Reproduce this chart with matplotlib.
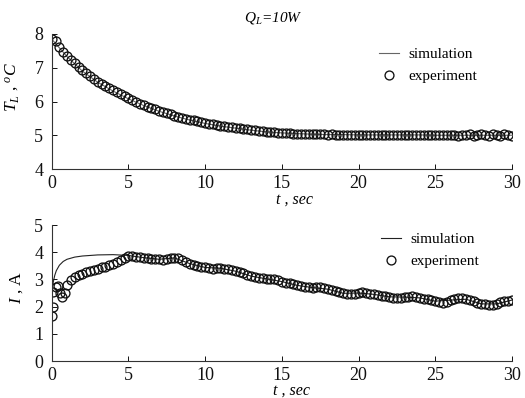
import numpy as np
import matplotlib
matplotlib.use("Agg")
import matplotlib.pyplot as plt

plt.rcParams['font.family'] = ['Liberation Serif', 'DejaVu Serif']
plt.rcParams['mathtext.fontset'] = 'custom'
plt.rcParams['mathtext.rm'] = 'Liberation Serif'
plt.rcParams['mathtext.it'] = 'Liberation Serif:italic'

# ---------------- data ----------------
title_text = r'$Q_L$=10W'

# Top panel: T_L (deg C), experiment every 0.25 s
t_T = np.arange(0, 30.001, 0.25)
T_exp = [7.85, 7.78, 7.62, 7.47,
         7.35, 7.24, 7.13, 7.02,
         6.92, 6.83, 6.75, 6.67,
         6.59, 6.52, 6.45, 6.39,
         6.33, 6.27, 6.21, 6.15,
         6.09, 6.04, 5.99, 5.94,
         5.89, 5.85, 5.81, 5.77,
         5.73, 5.69, 5.65, 5.62,
         5.58, 5.55, 5.52, 5.49,
         5.46, 5.44, 5.41, 5.39,
         5.36, 5.34, 5.32, 5.30,
         5.28, 5.27, 5.25, 5.24,
         5.22, 5.21, 5.19, 5.18,
         5.16, 5.15, 5.13, 5.12,
         5.11, 5.10, 5.09, 5.08,
         5.07, 5.06, 5.06, 5.05,
         5.05, 5.04, 5.04, 5.04,
         5.03, 5.04, 5.03, 5.03,
         5.02, 5.03, 5.02, 5.02,
         5.02, 5.01, 5.02, 5.02,
         5.01, 5.02, 5.01, 5.01,
         5.02, 5.01, 5.01, 5.01,
         5.01, 5.01, 5.02, 5.01,
         5.01, 5.01, 5.01, 5.01,
         5.01, 5.02, 5.01, 5.00,
         5.01, 5.01, 5.02, 5.00,
         5.01, 5.00, 4.99, 5.02,
         5.00, 5.03, 4.99, 5.01,
         5.04, 5.00, 4.99, 5.03,
         5.02, 4.99, 5.03, 5.00,
         4.99]

t_T_sim = np.arange(0, 31, 1)
T_sim = [7.85, 7.33, 6.90, 6.57, 6.31, 6.08, 5.88, 5.71, 5.57, 5.45, 5.35,
         5.27, 5.21, 5.15, 5.10, 5.07, 5.05, 5.03, 5.02, 5.02, 5.01,
         5.01, 5.01, 5.01, 5.01, 5.00, 5.00, 5.00, 5.00, 5.00, 5.00]

# Bottom panel: current I (A)
t_I_early = [0.0, 0.1, 0.1, 0.25, 0.4, 0.55, 0.7, 0.85, 1.0]
I_early = [1.65, 2.0, 2.55, 2.72, 2.75, 2.5, 2.35, 2.5, 2.8]
t_I_late = np.arange(1.25, 30.001, 0.25)
I_late = [2.98, 3.08, 3.15, 3.20,
          3.26, 3.30, 3.34, 3.40,
          3.44, 3.47, 3.53, 3.58,
          3.64, 3.72, 3.80, 3.85,
          3.86, 3.84, 3.82, 3.80,
          3.78, 3.75, 3.74, 3.74,
          3.73, 3.76, 3.78, 3.79,
          3.77, 3.72, 3.64, 3.58,
          3.54, 3.50, 3.47, 3.44,
          3.42, 3.40, 3.42, 3.41,
          3.40, 3.38, 3.33, 3.30,
          3.27, 3.22, 3.16, 3.12,
          3.08, 3.05, 3.04, 3.02,
          3.01, 3.00, 2.97, 2.92,
          2.88, 2.86, 2.82, 2.78,
          2.75, 2.73, 2.71, 2.70,
          2.72, 2.71, 2.68, 2.64,
          2.60, 2.56, 2.52, 2.49,
          2.47, 2.46, 2.48, 2.50,
          2.52, 2.51, 2.48, 2.45,
          2.42, 2.40, 2.38, 2.36,
          2.33, 2.30, 2.31, 2.35,
          2.36, 2.38, 2.36, 2.32,
          2.29, 2.27, 2.24, 2.20,
          2.17, 2.15, 2.18, 2.24,
          2.29, 2.31, 2.30, 2.27,
          2.24, 2.20, 2.14, 2.10,
          2.08, 2.07, 2.06, 2.10,
          2.16, 2.20, 2.22, 2.24]

t_I_sim = [0.0, 0.1, 0.2, 0.3, 0.5, 0.75, 1.0, 1.5, 2.0, 3.0, 4.0, 5.0,
           6.0, 7.0, 8.0, 9.0, 10.0, 11.0, 12.0, 13.0, 14.0, 15.0, 16.0,
           17.0, 18.0, 19.0, 20.0, 21.0, 22.0, 23.0, 24.0, 25.0, 26.0,
           27.0, 28.0, 29.0, 30.0]
I_sim = [2.55, 2.9, 3.15, 3.32, 3.52, 3.66, 3.74, 3.82, 3.86, 3.9, 3.91, 3.88,
         3.8, 3.74, 3.79, 3.58, 3.44, 3.41, 3.30, 3.12, 3.02, 2.92, 2.78,
         2.70, 2.64, 2.49, 2.50, 2.45, 2.36, 2.35, 2.32, 2.20, 2.24,
         2.27, 2.10, 2.10, 2.24]

# ---------------- figure ----------------
fig = plt.figure(figsize=(5.25, 3.98), dpi=100)
W, H = 525, 398
def ax_rect(x0, x1, ytop, ybot):
    return [x0 / W, 1 - ybot / H, (x1 - x0) / W, (ybot - ytop) / H]

ax1 = fig.add_axes(ax_rect(51.7, 512, 34, 169))
ax2 = fig.add_axes(ax_rect(51.7, 512, 225, 361))

mk = dict(marker='o', linestyle='none', markersize=6.4, markerfacecolor='none',
          markeredgecolor='#111111', markeredgewidth=0.95)

ax1.plot(t_T_sim, T_sim, color='#666666', lw=0.8, label='simulation')
ax1.plot(t_T, T_exp, label='experiment', **mk)
ax2.plot(t_I_sim, I_sim, color='#222222', lw=0.8, label='simulation')
ax2.plot(t_I_early + list(t_I_late), I_early + I_late, label='experiment', **mk)

for ax in (ax1, ax2):
    ax.set_xlim(0, 30)
    ax.set_xticks([0, 5, 10, 15, 20, 25, 30])
    for s in ('top', 'right'):
        ax.spines[s].set_visible(False)
    for s in ('left', 'bottom'):
        ax.spines[s].set_linewidth(0.8)
        ax.spines[s].set_color('#333333')
    ax.tick_params(direction='in', length=3.5, width=0.7, labelsize=13, colors='#111111')
    ax.tick_params(axis='x', pad=4)
    ax.tick_params(axis='y', pad=6)
    ax.set_xlabel('t , sec', fontstyle='italic', fontsize=11.5)
    ax.legend(loc='upper left', frameon=False, fontsize=11,
              handlelength=1.3, handletextpad=0.6, labelspacing=0.55,
              borderpad=0, borderaxespad=0)

ax1.set_ylim(4, 8)
ax1.set_yticks([4, 5, 6, 7, 8])
ax2.set_ylim(0, 5)
ax2.set_yticks([0, 1, 2, 3, 4, 5])

ax1.legend_.set_bbox_to_anchor((0.712, 0.90))
ax2.legend_.set_bbox_to_anchor((0.716, 0.945))

ax1.set_ylabel(r'$T_L$ , $^oC$', fontsize=12.5)
ax2.set_ylabel(r'$I$ , A', fontsize=12.5)
ax1.yaxis.set_label_coords(-0.066, 0.61)
ax2.yaxis.set_label_coords(-0.058, 0.54)
ax1.xaxis.set_label_coords(0.528, -0.165)
ax2.xaxis.set_label_coords(0.522, -0.158)

fig.text(273.5 / W, 1 - 18 / H, title_text, ha='center', va='center',
         fontsize=11, fontstyle='italic')

fig.savefig('out.png', dpi=100)
